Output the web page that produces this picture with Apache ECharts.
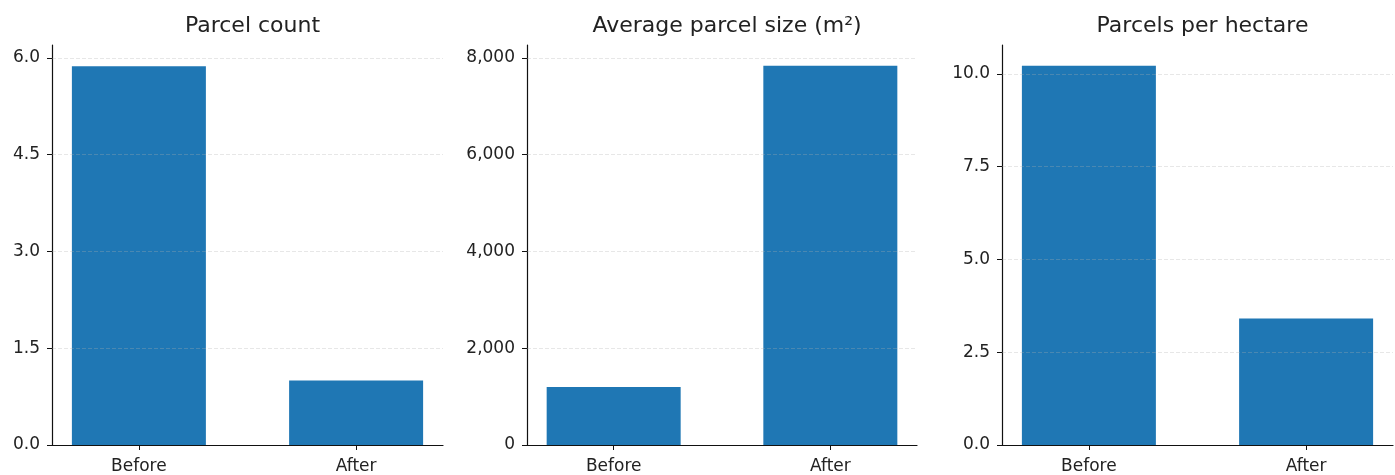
<!DOCTYPE html>
<html>
<head>
<meta charset="utf-8">
<script src="https://cdn.jsdelivr.net/npm/echarts@6/dist/echarts.min.js"></script>
<style>
html,body{margin:0;padding:0;background:#fff;}
#chart{width:1395px;height:475px;}
</style>
</head>
<body>
<div id="chart"></div>
<script>
// ---- data ----
var categories = ['Before', 'After'];
var parcelCount = [5.87, 1.0];
var avgParcelSize = [1196, 7835];
var parcelsPerHectare = [10.22, 3.41];

var titles = ['Parcel count', 'Average parcel size (m²)', 'Parcels per hectare'];
var ticksCount = [0, 1.5, 3.0, 4.5, 6.0];
var ticksSize = [0, 2000, 4000, 6000, 8000];
var ticksHectare = [0, 2.5, 5.0, 7.5, 10.0];
var yMax = [6.2, 8265, 10.78];

var seriesValues = [parcelCount, avgParcelSize, parcelsPerHectare];
var tickSets = [ticksCount, ticksSize, ticksHectare];
var labelFormatters = [
  function (v) { return v.toFixed(1); },
  function (v) { return Math.round(v).toLocaleString('en-US'); },
  function (v) { return v.toFixed(1); }
];

// ---- layout (pixel) ----
var grids = [
  { left: 52, top: 45, width: 391, height: 401 },
  { left: 527, top: 45, width: 390, height: 401 },
  { left: 1002, top: 45, width: 391, height: 401 }
];

var FONT = 'DejaVu Sans';
var axisColor = '#111';
var barColor = '#1f77b4';

var option = {
  animation: false,
  backgroundColor: '#ffffff',
  title: [],
  grid: [],
  xAxis: [],
  yAxis: [],
  series: []
};

for (var i = 0; i < 3; i++) {
  var g = grids[i];
  option.grid.push({ left: g.left, top: g.top, width: g.width, height: g.height, containLabel: false });
  option.title.push({
    text: titles[i],
    left: g.left + g.width / 2,
    top: 10,
    textAlign: 'center',
    textStyle: { fontFamily: FONT, fontSize: 22, fontWeight: 'normal', color: '#222' }
  });
  option.xAxis.push({
    type: 'value',
    gridIndex: i,
    min: -0.4,
    max: 1.4,
    axisLine: { show: true, onZero: false, lineStyle: { color: axisColor, width: 1.2 } },
    axisTick: { show: true, length: 5, customValues: [0, 1], lineStyle: { color: axisColor, width: 1 } },
    axisLabel: {
      show: true,
      customValues: [0, 1],
      margin: 13,
      fontFamily: FONT,
      fontSize: 17,
      color: '#222',
      formatter: function (v) { return categories[Math.round(v)]; }
    },
    splitLine: { show: false }
  });
  var fmt = labelFormatters[i];
  option.yAxis.push({
    type: 'value',
    gridIndex: i,
    min: 0,
    max: yMax[i],
    axisLine: { show: true, onZero: false, lineStyle: { color: axisColor, width: 1.2 } },
    axisTick: { show: true, length: 5, customValues: tickSets[i], lineStyle: { color: axisColor, width: 1 } },
    axisLabel: {
      show: true,
      customValues: tickSets[i],
      margin: 12,
      fontFamily: FONT,
      fontSize: 17,
      color: '#222',
      formatter: (function (f) { return function (v) { return f(v); }; })(fmt)
    },
    splitLine: { show: false }
  });
  var vals = seriesValues[i];
  option.series.push({
    type: 'bar',
    xAxisIndex: i,
    yAxisIndex: i,
    barWidth: 134,
    itemStyle: { color: barColor },
    data: vals.map(function (v, k) { return [k, v]; }),
    markLine: {
      silent: true,
      symbol: ['none', 'none'],
      label: { show: false },
      lineStyle: { type: 'dashed', color: '#b0b0b0', opacity: 0.3, width: 1 },
      data: tickSets[i].filter(function (t) { return t > 0; }).map(function (t) { return { yAxis: t }; })
    }
  });
}

var chart = echarts.init(document.getElementById('chart'), null, { renderer: 'canvas' });
chart.setOption(option);
</script>
</body>
</html>
